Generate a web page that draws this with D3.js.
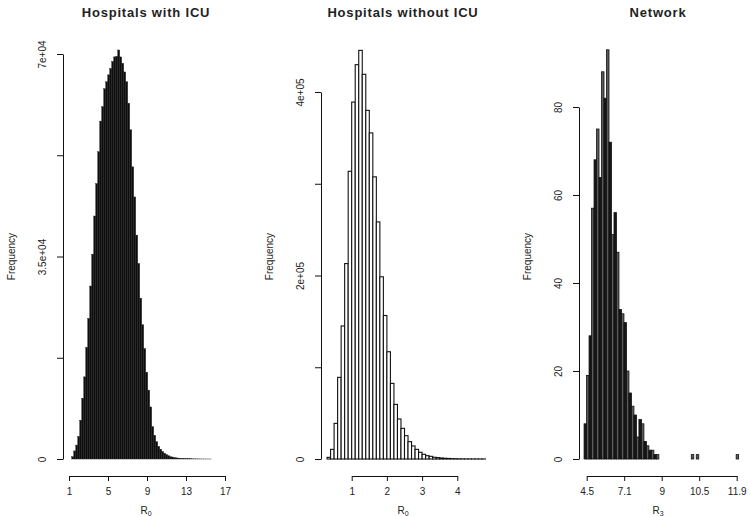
<!DOCTYPE html>
<html>
<head>
<meta charset="utf-8">
<script src="https://cdn.jsdelivr.net/npm/d3@7"></script>
<style>
  body { margin: 0; background: #fff; }
  svg text { font-family: "Liberation Sans", Arial, sans-serif; fill: #222; }
  .title { font-size: 13px; font-weight: bold; letter-spacing: 0.8px; }
  .tick text { font-size: 10px; }
  .lab { font-size: 10px; }
  .axis path, .axis line { stroke: #111; stroke-width: 1; }
</style>
</head>
<body>
<script>
// histogram counts
var icuCounts = [400,1400,2400,3900,6700,10500,14200,19300,24300,29900,
                 35400,42000,47600,53100,58400,60900,64000,65200,66400,67500,
                 68700,69500,69600,70700,69500,68400,66900,65200,61500,56900,
                 50500,45300,38700,33800,27800,23200,19100,15000,11900,9000,
                 5600,4100,3000,2200,1700,1300,1000,750,570,400,
                 340,230,200,150,120,100,80,60,50,40,
                 30,25,20,15,10,8,5,3,2,1];
var icuBins = {start: 1.28, width: 0.205};
var icuXTicks = [1, 5, 9, 13, 17];
var icuYTicks = [0, 17500, 35000, 52500, 70000];
var icuYLabels = ["0", "", "3.5e+04", "", "7e+04"];

var noIcuCounts = [1800,10500,38800,89000,145000,213000,313600,389000,429800,445400,
                   419300,380000,355400,307500,258400,198600,156400,116900,82400,59500,
                   43600,33400,25400,18900,14200,10500,7300,5100,3600,2900,
                   1900,1500,1100,800,600,400,300,200,150,100,
                   80,60,40,30,20];
var noIcuBins = {start: 0.3, width: 0.1};
var noIcuXTicks = [1, 2, 3, 4];
var noIcuYTicks = [0, 100000, 200000, 300000, 400000];
var noIcuYLabels = ["0", "", "2e+05", "", "4e+05"];

var netCounts = [8,19,28,57,68,75,64,88,82,93,
                 72,51,56,47,34,33,31,20,15,12,
                 10,5,9,8,4,3,2,2,1,1,
                 0,0,0,0,0,0,0,0,0,0,
                 0,0,0,1,0,1,0,0,0,0,
                 0,0,0,0,0,0,0,0,0,0,
                 0,1];
var netBins = {start: 4.37, width: 0.123};
var netXLabels = ["4.5", "7.1", "9", "10.5", "11.9"];
var netYTicks = [0, 20, 40, 60, 80];

var svg = d3.select("body").append("svg").attr("width", 750).attr("height", 516);

var panels = [
  { title: "Hospitals with ICU", counts: icuCounts, bins: icuBins, sub: "0",
    xdom: [1, 17], xr: [69, 225], xticks: icuXTicks, xfmt: function(d){ return d; },
    ydom: [0, 70000], yr: [459, 54], yticks: icuYTicks, yfmt: function(d,i){ return icuYLabels[i]; },
    axX: 63, fill: function(){ return "#0d0d0d"; }, stroke: "#222", sw: 0.4, cx: 146 },
  { title: "Hospitals without ICU", counts: noIcuCounts, bins: noIcuBins, sub: "0",
    xdom: [1, 4], xr: [351.7, 457.3], xticks: noIcuXTicks, xfmt: function(d){ return d; },
    ydom: [0, 400000], yr: [459, 92], yticks: noIcuYTicks, yfmt: function(d,i){ return noIcuYLabels[i]; },
    axX: 321, fill: function(){ return "#fff"; }, stroke: "#111", sw: 1.1, cx: 403 },
  { title: "Network", counts: netCounts, bins: netBins, sub: "3",
    xdom: [4.5, 11.9], xr: [586.7, 736.7],
    xticks: d3.range(netXLabels.length).map(function(i){ return 4.5 + i * (11.9 - 4.5) / (netXLabels.length - 1); }),
    xfmt: function(d,i){ return netXLabels[i]; },
    ydom: [0, 80], yr: [459, 107], yticks: netYTicks, yfmt: function(d){ return d; },
    axX: 579, fill: function(d,i){ return i % 2 ? "#5a5a5a" : "#161616"; }, stroke: "#111", sw: 0.8, cx: 658 }
];

panels.forEach(drawPanel);

function drawPanel(p) {
  var x = d3.scaleLinear().domain(p.xdom).range(p.xr);
  var y = d3.scaleLinear().domain(p.ydom).range(p.yr);
  var g = svg.append("g");

  // bars
  g.selectAll("rect.bar")
    .data(p.counts)
    .enter().append("rect")
    .attr("class", "bar")
    .attr("x", function(d,i){ return x(p.bins.start + i * p.bins.width); })
    .attr("width", function(d,i){ return x(p.bins.start + (i + 1) * p.bins.width) - x(p.bins.start + i * p.bins.width); })
    .attr("y", function(d){ return y(d); })
    .attr("height", function(d){ return y(0) - y(d); })
    .attr("fill", p.fill)
    .attr("stroke", p.stroke)
    .attr("stroke-width", p.sw);

  // y axis
  var ya = g.append("g").attr("class", "axis")
    .attr("transform", "translate(" + p.axX + ",0)")
    .call(d3.axisLeft(y).tickValues(p.yticks).tickFormat(p.yfmt).tickSize(6).tickSizeOuter(0));
  ya.selectAll(".tick text")
    .attr("x", null).attr("dy", null)
    .attr("text-anchor", "middle")
    .attr("transform", "translate(-17,0) rotate(-90)");

  // x axis
  var xa = g.append("g").attr("class", "axis")
    .attr("transform", "translate(0,476)")
    .call(d3.axisBottom(x).tickValues(p.xticks).tickFormat(p.xfmt).tickSize(5).tickSizeOuter(0));
  xa.selectAll(".tick text").attr("y", 12);

  // labels
  g.append("text").attr("class", "title")
    .attr("x", p.cx).attr("y", 17).attr("text-anchor", "middle").text(p.title);

  g.append("text").attr("class", "lab")
    .attr("text-anchor", "middle")
    .attr("transform", "translate(" + (p.axX - 48) + "," + ((p.yr[0] + 54) / 2) + ") rotate(-90)")
    .text("Frequency");

  var xl = g.append("text").attr("class", "lab")
    .attr("x", p.cx).attr("y", 514).attr("text-anchor", "middle");
  xl.append("tspan").text("R");
  xl.append("tspan").attr("font-size", "7px").attr("dy", 2).text(p.sub);
}
</script>
</body>
</html>
